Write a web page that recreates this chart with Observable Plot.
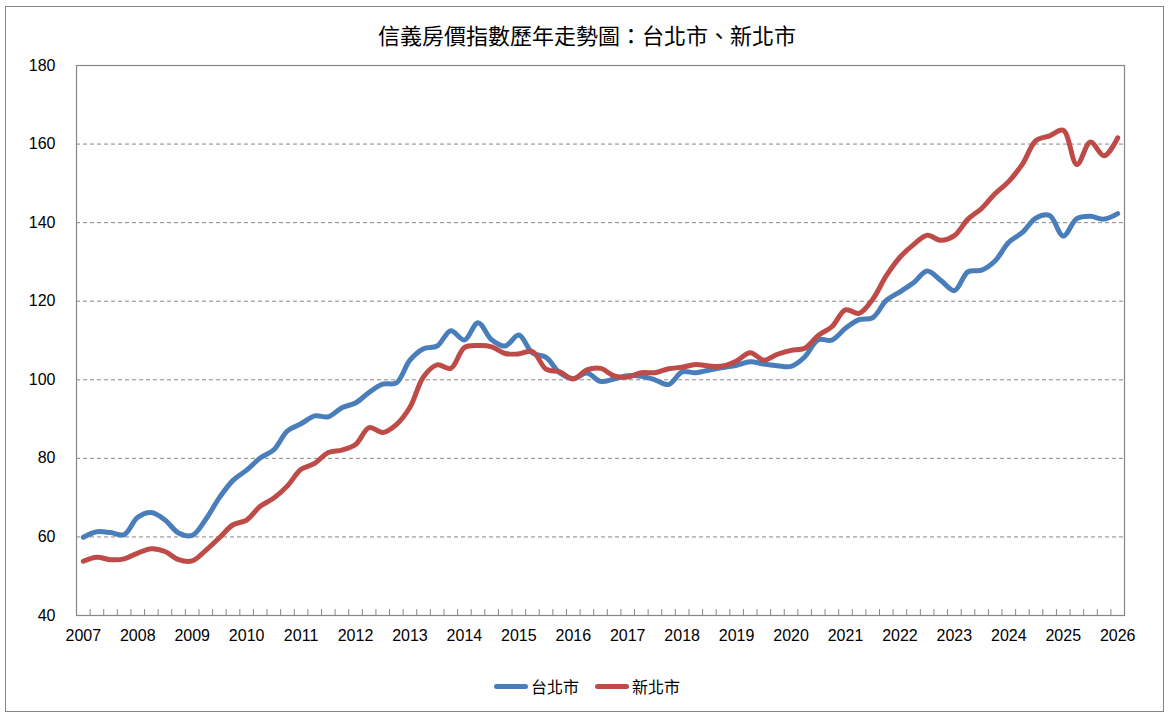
<!DOCTYPE html>
<html>
<head>
<meta charset="utf-8">
<script src="https://cdn.jsdelivr.net/npm/d3@7"></script>
<script src="https://cdn.jsdelivr.net/npm/@observablehq/plot@0.6"></script>
<style>
  html, body { margin: 0; padding: 0; background: #fff; }
  #wrap { position: relative; width: 1174px; height: 721px; overflow: hidden; background: #fff; }
  #border { position: absolute; left: 5px; top: 6px; width: 1159px; height: 706px; border: 1.5px solid #868686; box-sizing: border-box; }
  #title { position: absolute; left: 0; width: 1174px; top: 19px; text-align: center;
           font-family: "Noto Sans CJK TC", "Noto Sans CJK SC", sans-serif; font-size: 22px; color: #000; line-height: 30px; }
  #chart { position: absolute; left: 0; top: 50px; }
  #legend { position: absolute; left: 0; width: 1174px; top: 674px; display: flex; justify-content: center; align-items: center;
            font-family: "Noto Sans CJK TC", "Noto Sans CJK SC", sans-serif; font-size: 16px; color: #000; }
  .item { display: flex; align-items: center; margin: 0 8px; }
  .sw { width: 34px; height: 5px; border-radius: 2.5px; margin-right: 3px; }
</style>
</head>
<body>
<div id="wrap">
  <div id="border"></div>
  <div id="title"></div>
  <div id="chart"></div>
  <div id="legend"></div>
</div>
<script>
const titleText = "信義房價指數歷年走勢圖：台北市、新北市";
const seriesNames = ["台北市", "新北市"];
const seriesColors = ["#4a7ebb", "#be4b48"];
const years = ["2007","2008","2009","2010","2011","2012","2013","2014","2015","2016","2017","2018","2019","2020","2021","2022","2023","2024","2025","2026"];
const yTicks = [40, 60, 80, 100, 120, 140, 160, 180];
const gridValues = [60, 80, 100, 120, 140, 160];

// Quarterly index values, 2007Q1 .. 2026Q1
const taipei = [
  59.9, 61.3, 61.1, 60.6, 65.0, 66.2, 64.3, 61.0,
  60.4, 64.5, 70.0, 74.4, 77.0, 80.1, 82.2, 87.0,
  88.8, 90.8, 90.6, 92.9, 94.1, 96.8, 98.9, 99.2,
  105.0, 107.9, 108.6, 112.5, 110.1, 114.5, 110.2, 108.6,
  111.4, 106.8, 105.7, 101.8, 100.3, 101.7, 99.6, 100.2,
  101.0, 100.9, 100.0, 98.8, 102.0, 101.8, 102.5, 103.1,
  103.7, 104.6, 104.0, 103.6, 103.4, 105.8, 110.2, 110.1,
  113.1, 115.3, 115.8, 120.2, 122.4, 124.7, 127.7, 125.3,
  122.7, 127.5, 127.9, 130.3, 135.0, 137.5, 141.2, 141.8,
  136.6, 141.0, 141.6, 140.9, 142.3
];
const newTaipei = [
  53.8, 54.8, 54.2, 54.4, 55.9, 57.0, 56.3, 54.2,
  53.9, 56.6, 59.8, 63.1, 64.3, 67.8, 69.9, 73.0,
  77.2, 78.7, 81.5, 82.1, 83.5, 87.8, 86.6, 88.6,
  93.0, 100.8, 103.8, 102.9, 108.2, 108.7, 108.4, 106.7,
  106.6, 107.2, 102.7, 102.0, 100.2, 102.5, 102.9, 101.0,
  100.7, 101.8, 101.8, 102.8, 103.2, 103.9, 103.5, 103.5,
  104.8, 106.9, 105.0, 106.5, 107.5, 108.0, 111.3, 113.5,
  117.8, 116.9, 120.5, 126.5, 131.2, 134.4, 136.8, 135.5,
  136.7, 140.9, 143.6, 147.4, 150.5, 154.9, 160.9, 162.1,
  163.5, 154.8, 160.5, 157.0, 161.6
];

const n = taipei.length;
const rows = [];
[taipei, newTaipei].forEach((arr, s) => arr.forEach((v, i) => rows.push({i, v, s: seriesNames[s]})));
const boundaries = d3.range(n + 1).map(k => k - 0.5);
const labelIdx = years.map((_, k) => k * 4);

document.getElementById("title").textContent = titleText;

const chart = Plot.plot({
  width: 1174,
  height: 610,
  marginLeft: 76,
  marginRight: 50,
  marginTop: 15,
  marginBottom: 45,
  x: {domain: [-0.5, n - 0.5], axis: null},
  y: {domain: [40, 180], axis: null},
  style: {fontFamily: "'Liberation Sans', Arial, sans-serif", background: "transparent"},
  marks: [
    Plot.ruleY(gridValues, {stroke: "#868686", strokeWidth: 1, strokeDasharray: "4,3"}),
    Plot.ruleX(boundaries, {y1: 40, y2: 41.5, stroke: "#868686", strokeWidth: 1}),
    Plot.frame({stroke: "#868686", strokeWidth: 1.2}),
    Plot.axisX({ticks: labelIdx, tickFormat: (d) => years[d / 4], tickSize: 0, tickPadding: 14, fontSize: 16, fill: "#000", label: null}),
    Plot.axisY({ticks: yTicks, tickSize: 0, tickPadding: 21, fontSize: 16, fill: "#000", label: null}),
    Plot.line(rows, {x: "i", y: "v", z: "s", stroke: "s", strokeWidth: 5, curve: "catmull-rom", strokeLinecap: "round", strokeLinejoin: "round"})
  ],
  color: {domain: seriesNames, range: seriesColors}
});
document.getElementById("chart").appendChild(chart);

const legend = document.getElementById("legend");
seriesNames.forEach((name, k) => {
  const it = document.createElement("div");
  it.className = "item";
  const sw = document.createElement("div");
  sw.className = "sw";
  sw.style.background = seriesColors[k];
  const lab = document.createElement("span");
  lab.textContent = name;
  it.appendChild(sw);
  it.appendChild(lab);
  legend.appendChild(it);
});
</script>
</body>
</html>
